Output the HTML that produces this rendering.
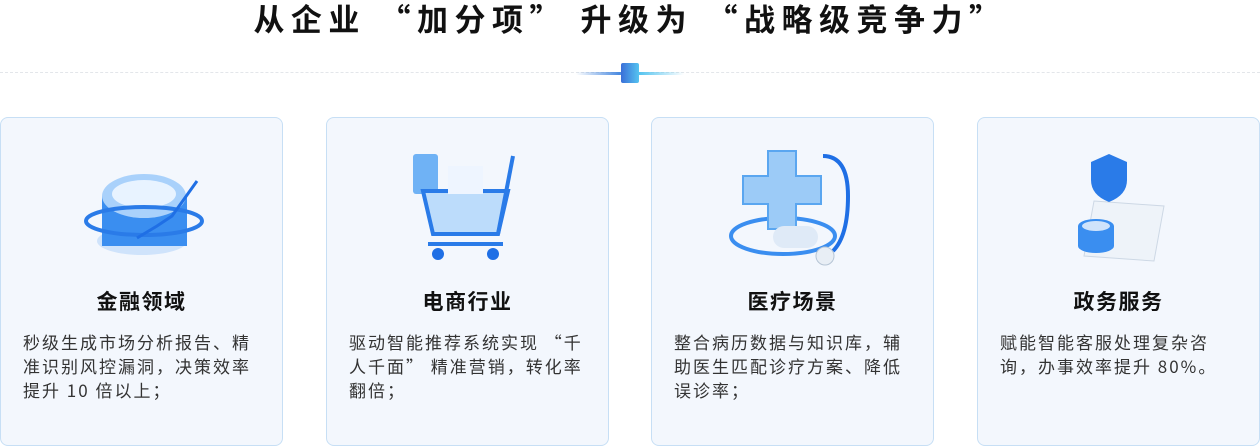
<!DOCTYPE html>
<html><head><meta charset="utf-8"><style>
*{margin:0;padding:0;box-sizing:border-box}
body{width:1260px;height:446px;background:#fff;position:relative;overflow:hidden;font-family:"Noto Sans CJK SC","Liberation Sans",sans-serif}
.t{position:absolute;top:-2px;left:0;width:1260px;text-align:center;font-size:31px;font-weight:bold;color:#111;line-height:40px;letter-spacing:6.5px}
.line{position:absolute;top:72px;left:0;width:1260px;border-top:1px dashed #e3e6ea}
.bar{position:absolute;top:72px;left:576px;width:108px;height:3px;background:linear-gradient(90deg,rgba(70,110,220,0),#4a8ae0 40%,#5bc6f0 60%,rgba(90,200,240,0))}
.sq{position:absolute;top:63px;left:621px;width:18px;height:20px;border-radius:2px;background:linear-gradient(90deg,#3a6fd8,#55c3f0)}
.c{position:absolute;top:117px;width:283px;height:329px;border:1px solid #c7dff5;border-radius:8px;background:#f3f7fd}
.c h3{position:absolute;top:168px;width:100%;text-align:center;font-size:21px;font-weight:bold;color:#111;letter-spacing:1.5px}
.c p{position:absolute;top:212px;left:22px;width:236px;font-size:17px;line-height:24px;color:#333;letter-spacing:2px}
.ic{position:absolute;top:28px;left:76px}
</style></head><body>
<div class="t">从企业 “加分项” 升级为 “战略级竞争力”</div>
<div class="line"></div><div class="bar"></div><div class="sq"></div>

<div class="c" style="left:0"><svg class="ic" width="130" height="125"><ellipse cx="65" cy="95" rx="45" ry="14" fill="#cfe3fb"/><rect x="25" y="50" width="85" height="50" fill="#3a8ef0"/><ellipse cx="67" cy="50" rx="42" ry="22" fill="#a9d1fb"/><ellipse cx="67" cy="48" rx="32" ry="14" fill="#e8f3ff"/><ellipse cx="67" cy="75" rx="58" ry="14" fill="none" stroke="#2a7be8" stroke-width="4"/><polyline points="60,92 80,80 95,70 120,35" fill="none" stroke="#1f6fe5" stroke-width="3"/></svg><h3>金融领域</h3><p>秒级生成市场分析报告、精准识别风控漏洞，决策效率提升 10 倍以上；</p></div>

<div class="c" style="left:326px"><svg class="ic" width="130" height="125"><rect x="10" y="8" width="25" height="40" rx="3" fill="#6fb2f5"/><path d="M20 45 L105 45 L95 88 L30 88 Z" fill="#bcdcfb" stroke="#2a7be8" stroke-width="4"/><rect x="45" y="20" width="35" height="28" fill="#eef5ff"/><path d="M95 88 L110 10" stroke="#2a7be8" stroke-width="4"/><line x1="25" y1="98" x2="100" y2="98" stroke="#2a7be8" stroke-width="4"/><circle cx="35" cy="108" r="6" fill="#1f6fe5"/><circle cx="90" cy="108" r="6" fill="#1f6fe5"/></svg><h3>电商行业</h3><p>驱动智能推荐系统实现 “千人千面” 精准营销，转化率翻倍；</p></div>

<div class="c" style="left:651px"><svg class="ic" width="130" height="125"><ellipse cx="55" cy="90" rx="52" ry="18" fill="none" stroke="#3a8ef0" stroke-width="4"/><path d="M40 5h28v25h25v28h-25v25h-28v-25h-25v-28h25z" fill="#9ccbf7" stroke="#5aa6f0" stroke-width="2"/><rect x="45" y="80" width="45" height="22" rx="11" fill="#dfeaf7"/><path d="M95 10 q25 0 25 40 q0 40 -15 55" fill="none" stroke="#1f6fe5" stroke-width="4"/><circle cx="97" cy="110" r="9" fill="#e8eef5" stroke="#b6c5d5"/></svg><h3>医疗场景</h3><p>整合病历数据与知识库，辅助医生匹配诊疗方案、降低误诊率；</p></div>

<div class="c" style="left:977px"><svg class="ic" width="130" height="125"><path d="M40 55 L110 60 L100 115 L30 110 Z" fill="#eef3f9" stroke="#cdd8e5"/><path d="M55 8 l18 8 v18 q0 15 -18 22 q-18 -7 -18 -22 v-18 z" fill="#2a7be8"/><ellipse cx="42" cy="80" rx="18" ry="7" fill="#3a8ef0"/><rect x="24" y="80" width="36" height="20" fill="#3a8ef0"/><ellipse cx="42" cy="100" rx="18" ry="7" fill="#3a8ef0"/><ellipse cx="42" cy="80" rx="14" ry="5" fill="#cfe3fb"/></svg><h3>政务服务</h3><p>赋能智能客服处理复杂咨询，办事效率提升 80%。</p></div>
</body></html>
